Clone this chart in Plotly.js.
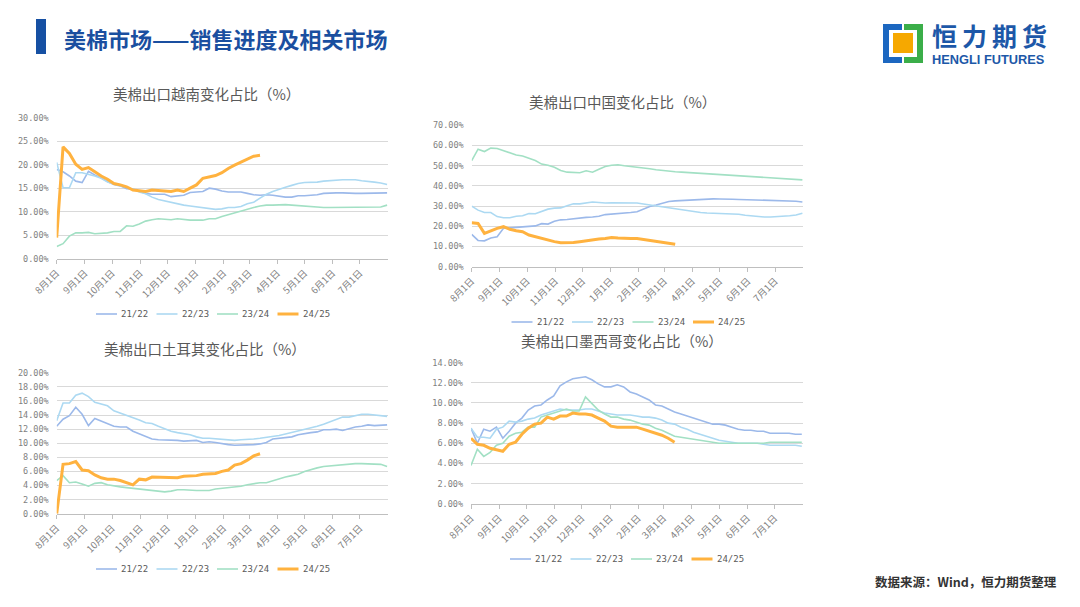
<!DOCTYPE html>
<html>
<head>
<meta charset="utf-8">
<script src="https://cdn.plot.ly/plotly-3.0.1.min.js"></script>
<style>
html,body{margin:0;padding:0;background:#fff;}
#chart{width:1080px;height:607px;}
</style>
</head>
<body>
<div id="chart"></div>
<script>
// ---------- data (weekly, starting 8月1日) ----------
const seasons = ['21/22', '22/23', '23/24', '24/25'];
const monthTickDays = [0, 31, 61, 92, 122, 153, 184, 212, 243, 273, 304, 334];
const monthTickText = ['8月1日','9月1日','10月1日','11月1日','12月1日','1月1日','2月1日','3月1日','4月1日','5月1日','6月1日','7月1日'];

// 美棉出口越南变化占比（%）
const vn_2122 = [19.0,18.5,17.6,16.5,16.2,18.6,17.8,17.2,16.4,15.8,15.5,14.9,14.8,14.3,13.9,13.7,13.7,13.7,13.2,13.4,13.5,14.1,14.2,14.3,15.0,14.8,14.4,14.2,14.2,14.2,13.9,13.6,13.5,13.6,13.5,13.3,13.1,13.1,13.4,13.4,13.5,13.6,13.9,14.0,14.0,14.0,13.9,13.9,13.9,13.9,14.0,14.0,14.0];
const vn_2223 = [20.5,15.1,15.1,18.3,18.3,18.0,17.6,17.1,16.3,15.9,15.6,15.2,14.8,14.2,13.8,13.1,12.6,12.3,11.9,11.6,11.4,11.2,11.0,10.8,10.7,10.5,10.6,10.9,10.9,11.1,11.7,12.0,12.9,13.7,14.3,14.8,15.2,15.6,16.0,16.2,16.2,16.3,16.5,16.6,16.8,16.8,16.8,16.8,16.6,16.5,16.3,16.1,15.8];
const vn_2324 = [2.6,3.2,4.8,5.5,5.5,5.6,5.3,5.4,5.5,5.8,5.8,7.0,6.9,7.4,8.0,8.3,8.5,8.4,8.3,8.5,8.3,8.2,8.2,8.2,8.5,8.5,9.0,9.4,9.8,10.2,10.6,10.9,11.2,11.4,11.4,11.5,11.5,11.4,11.3,11.2,11.0,10.9,10.9,10.9,10.9,10.9,10.9,10.9,10.9,10.9,11.0,11.0,11.4];
const vn_2425 = [4.5,23.8,22.4,20.1,19.0,19.4,18.5,17.6,16.9,16.0,15.7,15.3,14.6,14.5,14.3,14.6,14.5,14.4,14.3,14.6,14.3,15.0,15.7,17.1,17.4,17.7,18.3,19.2,19.9,20.5,21.1,21.8,22.0];

// 美棉出口中国变化占比（%）
const cn_2122 = [16.0,13.0,12.8,14.2,14.8,19.0,19.2,19.5,19.7,20.0,20.2,21.3,21.1,22.5,23.2,23.4,23.8,24.2,24.4,24.6,25.0,25.8,26.0,26.3,26.7,26.8,27.2,28.5,29.8,30.5,31.5,32.3,32.6,32.8,33.1,33.0,33.2,33.4,33.6,33.5,33.6,33.4,33.3,33.2,33.1,33.1,33.0,32.9,32.7,32.6,32.6,32.4,32.0];
const cn_2223 = [30.0,28.0,26.8,26.8,24.8,24.2,24.2,25.0,25.2,26.3,26.2,27.2,28.5,29.0,29.1,30.2,31.2,31.1,31.6,32.0,31.8,31.5,31.6,31.6,31.6,31.6,31.5,31.0,30.5,30.2,29.6,29.0,28.6,28.0,27.5,27.1,26.8,26.6,26.5,26.5,26.5,26.4,26.0,25.5,25.2,24.8,24.6,24.6,24.7,24.9,25.2,25.6,26.5];
const cn_2324 = [52.5,58.2,57.0,58.7,58.5,57.5,56.5,55.3,54.8,53.5,52.6,50.8,50.2,49.2,47.6,46.8,46.6,46.5,47.5,46.8,48.2,49.6,50.2,50.5,50.0,49.7,49.3,48.9,48.5,48.0,47.6,47.2,47.0,46.8,46.6,46.5,46.3,46.1,45.9,45.6,45.5,45.3,45.1,45.0,44.8,44.7,44.5,44.3,44.1,43.9,43.6,43.3,43.0];
const cn_2425 = [21.8,21.4,16.5,17.8,19.0,19.8,18.5,17.8,17.3,15.7,14.9,14.0,13.0,12.4,11.9,11.9,12.0,12.4,12.9,13.2,13.7,14.0,14.5,14.2,14.0,14.0,14.0,13.5,13.0,12.5,12.2,11.6,11.1];

// 美棉出口土耳其变化占比（%）
const tr_2122 = [12.4,13.4,13.9,15.1,14.1,12.5,13.5,13.1,12.7,12.4,12.3,12.3,11.7,11.3,11.0,10.6,10.5,10.5,10.5,10.4,10.3,10.3,10.4,10.1,10.2,10.1,9.9,9.8,9.7,9.7,9.7,9.8,9.9,10.1,10.6,10.7,10.9,10.9,11.2,11.4,11.5,11.6,11.9,11.9,12.0,11.8,12.1,12.3,12.4,12.6,12.5,12.5,12.6];
const tr_2223 = [13.2,15.7,15.7,16.8,17.1,16.6,15.8,15.6,15.3,14.6,14.3,13.9,13.6,13.3,12.9,12.8,12.4,12.0,11.7,11.5,11.4,11.2,10.9,10.7,10.7,10.6,10.5,10.4,10.4,10.5,10.5,10.6,10.7,10.8,10.9,11.1,11.3,11.5,11.7,11.9,12.2,12.4,12.7,13.0,13.4,13.7,13.7,13.9,14.1,14.1,14.0,13.9,13.8];
const tr_2324 = [4.7,5.4,4.4,4.5,4.2,3.9,4.3,4.4,4.1,3.9,3.8,3.7,3.6,3.5,3.5,3.4,3.3,3.1,3.2,3.4,3.4,3.3,3.3,3.3,3.3,3.5,3.6,3.6,3.7,3.9,4.1,4.3,4.4,4.4,4.7,5.0,5.2,5.4,5.6,6.0,6.3,6.5,6.7,6.8,6.8,6.9,7.0,7.1,7.1,7.1,7.1,7.0,6.7];
const tr_2425 = [0.0,7.0,7.1,7.4,6.2,6.1,5.5,5.1,4.9,4.9,4.7,4.4,4.1,4.9,4.8,5.2,5.2,5.2,5.2,5.1,5.3,5.3,5.4,5.6,5.6,5.7,6.0,6.2,6.9,7.1,7.6,8.2,8.5];

// 美棉出口墨西哥变化占比（%）
const mx_2122 = [7.5,6.0,7.4,7.2,7.6,6.5,7.2,8.0,8.5,9.3,9.7,9.8,10.3,10.7,11.7,12.1,12.4,12.5,12.6,12.3,11.9,11.6,11.6,11.8,11.6,11.1,10.9,10.6,10.3,9.8,9.7,9.4,9.1,8.9,8.7,8.5,8.3,8.1,7.9,7.9,7.8,7.6,7.4,7.3,7.3,7.2,7.2,7.0,7.0,7.0,7.0,6.9,6.9];
const mx_2223 = [7.5,6.6,6.6,6.5,7.4,7.6,8.2,8.1,8.2,8.4,8.5,8.8,9.0,9.2,9.4,9.3,9.3,9.3,9.4,9.4,9.2,9.0,8.9,8.8,8.8,8.8,8.7,8.6,8.6,8.5,8.3,8.0,7.9,7.6,7.4,7.1,6.9,6.7,6.5,6.3,6.2,6.1,6.0,6.0,6.0,6.0,5.9,5.8,5.8,5.8,5.8,5.8,5.7];
const mx_2324 = [3.8,5.4,4.7,5.1,5.8,6.0,6.7,7.0,7.1,7.6,7.6,8.6,8.8,9.0,9.2,9.4,9.2,9.2,10.6,10.0,9.3,8.9,8.6,8.6,8.4,8.3,8.1,7.9,7.8,7.5,7.3,7.0,6.7,6.6,6.5,6.4,6.3,6.2,6.1,6.0,6.0,6.0,6.0,6.0,6.0,6.0,6.0,6.1,6.1,6.1,6.1,6.1,6.1];
const mx_2425 = [6.5,5.9,5.8,5.5,5.35,5.2,5.9,6.1,6.9,7.5,7.9,8.0,8.6,8.4,8.7,8.7,9.0,8.9,8.9,8.8,8.5,8.2,7.7,7.6,7.6,7.6,7.6,7.4,7.2,7.0,6.8,6.5,6.1];

// ---------- styling ----------
const W = 1080, H = 607;
const px = x => x / W;
const py = y => 1 - y / H;
const colors = ['#9cb9ea', '#acd9f2', '#a2e0c4', '#ffb23f'];
const widths = [1.6, 1.6, 1.6, 3];
const cjk = '"Noto Sans CJK SC", "Noto Sans", sans-serif';
const numFont = '"DejaVu Sans Mono", "Liberation Mono", monospace';
const gray = '#7f7f7f';
const weekDays = arr => arr.map((_, i) => i * 7);

const panels = [
  {series: [vn_2122, vn_2223, vn_2324, vn_2425], title: '美棉出口越南变化占比（%）', ymax: 30, dtick: 5,
   xd: [56.7, 388], yd: [117.7, 258.7], tx: 206, ty: 93, lx: 96, ly: 314},
  {series: [cn_2122, cn_2223, cn_2324, cn_2425], title: '美棉出口中国变化占比（%）', ymax: 70, dtick: 10,
   xd: [471.7, 803.3], yd: [125.3, 266.7], tx: 622, ty: 101, lx: 511.5, ly: 322},
  {series: [tr_2122, tr_2223, tr_2324, tr_2425], title: '美棉出口土耳其变化占比（%）', ymax: 20, dtick: 2,
   xd: [56.7, 388], yd: [372.7, 513.7], tx: 205, ty: 348, lx: 96, ly: 569},
  {series: [mx_2122, mx_2223, mx_2324, mx_2425], title: '美棉出口墨西哥变化占比（%）', ymax: 14, dtick: 2,
   xd: [471, 802.7], yd: [362.7, 503.7], tx: 622, ty: 340, lx: 510, ly: 559}
];
const legendStep = 60.5, legendSample = 21;

const data = [];
const layout = {
  width: W, height: H,
  margin: {l: 0, r: 0, t: 0, b: 0},
  paper_bgcolor: '#ffffff', plot_bgcolor: '#ffffff',
  showlegend: false,
  annotations: [], shapes: []
};

panels.forEach((p, k) => {
  const sfx = k === 0 ? '' : String(k + 1);
  p.series.forEach((ys, j) => {
    data.push({
      type: 'scatter', mode: 'lines',
      x: weekDays(ys), y: ys,
      name: seasons[j],
      xaxis: 'x' + sfx, yaxis: 'y' + sfx,
      line: {color: colors[j], width: widths[j]},
      hoverinfo: 'skip'
    });
    // legend entry (sample line + label)
    const x0 = p.lx + j * legendStep;
    layout.shapes.push({type: 'line', xref: 'paper', yref: 'paper',
      x0: px(x0), x1: px(x0 + legendSample), y0: py(p.ly), y1: py(p.ly),
      line: {color: colors[j], width: widths[j]}});
    layout.annotations.push({xref: 'paper', yref: 'paper', x: px(x0 + legendSample + 2), y: py(p.ly),
      xanchor: 'left', yanchor: 'middle', showarrow: false, text: seasons[j],
      font: {family: numFont, size: 9, color: '#595959'}});
  });
  layout['xaxis' + sfx] = {
    domain: [px(p.xd[0]), px(p.xd[1])],
    anchor: 'y' + sfx,
    range: [0, 365],
    tickmode: 'array', tickvals: monthTickDays, ticktext: monthTickText,
    tickangle: -45,
    tickfont: {family: cjk, size: 9.5, color: gray},
    showgrid: false, zeroline: false,
    showline: true, linecolor: '#bfbfbf', linewidth: 1,
    ticks: 'outside', ticklen: 4, tickcolor: '#bfbfbf',
    fixedrange: true
  };
  layout['yaxis' + sfx] = {
    domain: [py(p.yd[1]), py(p.yd[0])],
    anchor: 'x' + sfx,
    range: [0, p.ymax], dtick: p.dtick, tick0: 0,
    tickformat: '.2f', ticksuffix: '%',
    tickfont: {family: numFont, size: 8.5, color: gray},
    ticklabelstandoff: 7,
    showgrid: true, gridcolor: '#d9d9d9', gridwidth: 1,
    zeroline: false, showline: false,
    fixedrange: true
  };
  layout.annotations.push({
    xref: 'paper', yref: 'paper', x: px(p.tx), y: py(p.ty),
    xanchor: 'center', yanchor: 'middle', showarrow: false,
    text: p.title,
    font: {family: cjk, size: 14.5, color: '#595959'}
  });
});

// header
layout.shapes.push({type: 'rect', xref: 'paper', yref: 'paper',
  x0: px(36), x1: px(46), y0: py(54), y1: py(19), line: {width: 0}, fillcolor: '#1650a3'});
layout.annotations.push({xref: 'paper', yref: 'paper', x: px(62), y: py(38),
  xanchor: 'left', yanchor: 'middle', showarrow: false,
  text: '<b>美棉市场——销售进度及相关市场</b>',
  font: {family: cjk, size: 22, color: '#1a4fa0'}});

// logo
layout.shapes.push(
  {type: 'rect', xref: 'paper', yref: 'paper', x0: px(883), x1: px(902), y0: py(63), y1: py(24), line: {width: 0}, fillcolor: '#1c67c0'},
  {type: 'rect', xref: 'paper', yref: 'paper', x0: px(904), x1: px(923), y0: py(63), y1: py(24), line: {width: 0}, fillcolor: '#3bae49'},
  {type: 'rect', xref: 'paper', yref: 'paper', x0: px(889), x1: px(917), y0: py(57), y1: py(30), line: {width: 0}, fillcolor: '#ffffff'},
  {type: 'rect', xref: 'paper', yref: 'paper', x0: px(893), x1: px(913), y0: py(53), y1: py(33), line: {width: 0}, fillcolor: '#f6a800'}
);
layout.annotations.push(
  {xref: 'paper', yref: 'paper', x: px(931), y: py(34.5), xanchor: 'left', yanchor: 'middle', showarrow: false,
   borderpad: 0, text: '<b>恒\u2009力\u2009期\u2009货</b>', font: {family: cjk, size: 25, color: '#1d58a8'}},
  {xref: 'paper', yref: 'paper', x: px(931), y: py(60), xanchor: 'left', yanchor: 'middle', showarrow: false,
   borderpad: 0, text: '<b>HENGLI FUTURES</b>', font: {family: '"Liberation Sans", Arial, sans-serif', size: 12.8, color: '#1d58a8'}}
);

// footer
layout.annotations.push({xref: 'paper', yref: 'paper', x: px(1059), y: py(581),
  xanchor: 'right', yanchor: 'middle', showarrow: false,
  text: '<b>数据来源：Wind，恒力期货整理</b>',
  font: {family: cjk, size: 12.5, color: '#333333'}});

Plotly.newPlot('chart', data, layout, {staticPlot: true, displayModeBar: false});
</script>
</body>
</html>
